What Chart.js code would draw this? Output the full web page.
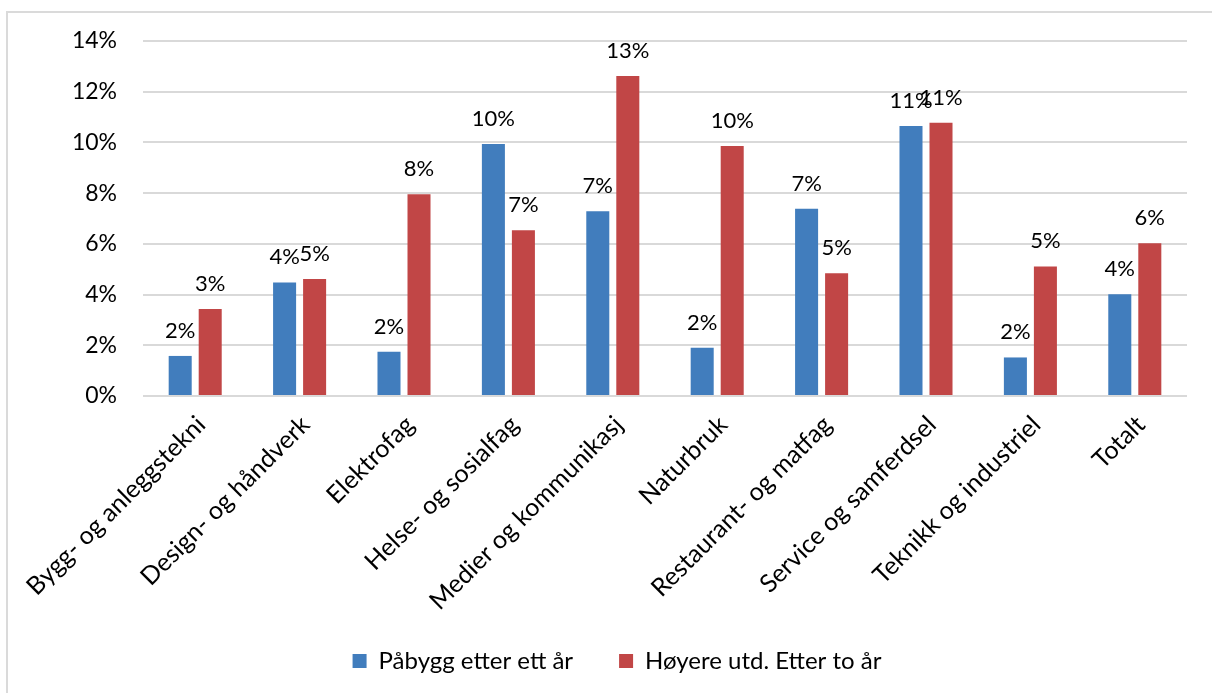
<!DOCTYPE html>
<html><head><meta charset="utf-8">
<script src="https://cdn.jsdelivr.net/npm/chart.js@4.4.1/dist/chart.umd.min.js"></script>
<style>
html,body{margin:0;padding:0;background:#fff;overflow:hidden;width:1212px;height:693px}
#frame{position:absolute;left:6px;top:11px;width:1400px;height:900px;border:2px solid #dadada;box-sizing:border-box}
#wrap{position:absolute;left:0;top:0;width:1212px;height:693px}
</style></head><body>
<div id="frame"></div>
<div id="wrap"><canvas id="c" width="1212" height="693"></canvas></div>
<script>
const categories = ['Bygg- og anleggstekni','Design- og håndverk','Elektrofag','Helse- og sosialfag','Medier og kommunikasj','Naturbruk','Restaurant- og matfag','Service og samferdsel','Teknikk og industriel','Totalt'];
const seriesNames = ['Påbygg etter ett år','Høyere utd. Etter to år'];
const pabygg = [1.58, 4.48, 1.75, 9.94, 7.29, 1.90, 7.38, 10.65, 1.52, 4.01];
const hoyere = [3.43, 4.61, 7.96, 6.54, 12.62, 9.86, 4.84, 10.78, 5.11, 6.02];
const yTickValues = [0, 2, 4, 6, 8, 10, 12, 14];
const colors = ['#417dbd', '#c14646'];

Chart.defaults.font.family = 'Lato, "Open Sans", sans-serif';
Chart.defaults.color = '#000';

const barLabels = {
  id: 'barLabels',
  afterDatasetsDraw(chart) {
    const ctx = chart.ctx;
    ctx.save();
    ctx.font = '22px Lato, "Open Sans", sans-serif';
    ctx.fillStyle = '#000';
    ctx.textAlign = 'center';
    ctx.textBaseline = 'alphabetic';
    chart.data.datasets.forEach((ds, i) => {
      chart.getDatasetMeta(i).data.forEach((bar, j) => {
        ctx.fillText(Math.round(ds.data[j]) + '%', bar.x, bar.y - 18);
      });
    });
    ctx.restore();
  }
};

const legendPlace = {
  id: 'legendPlace',
  afterLayout(chart) {
    const lg = chart.legend;
    if (!lg) return;
    const c = (lg.left + lg.right) / 2;
    const d = 617 - c;
    lg.left += d; lg.right += d;
    lg.top = 603; lg.bottom = 693; lg.height = 90;
  }
};

new Chart(document.getElementById('c'), {
  type: 'bar',
  data: {
    labels: categories,
    datasets: [
      { label: seriesNames[0], data: pabygg, backgroundColor: colors[0] },
      { label: seriesNames[1], data: hoyere, backgroundColor: colors[1] }
    ]
  },
  options: {
    responsive: false,
    animation: false,
    devicePixelRatio: 1,
    layout: { padding: { left: 0, top: 41, right: 25, bottom: 0 } },
    datasets: { bar: { categoryPercentage: 0.575, barPercentage: 0.767 } },
    plugins: {
      tooltip: { enabled: false },
      legend: {
        position: 'bottom',
        maxHeight: 40,
        labels: { boxWidth: 14, boxHeight: 14, padding: 46, font: { size: 24 }, color: '#000' }
      }
    },
    scales: {
      x: {
        grid: { display: false, drawTicks: false },
        border: { display: false },
        ticks: { autoSkip: false, minRotation: 45, maxRotation: 45, padding: 14, labelOffset: 6, font: { size: 25 }, color: '#000' },
        afterFit(s) { s.height = 693 - 396 - 40; }
      },
      y: {
        min: 0, max: 14,
        afterBuildTicks(s) { s.ticks = yTickValues.map(v => ({ value: v })); },
        grid: { color: '#d9d9d9', lineWidth: 2, drawTicks: false },
        border: { display: false },
        ticks: { padding: 26, font: { size: 23 }, color: '#000', callback: v => v + '%' },
        afterFit(s) { s.width = 143; }
      }
    }
  },
  plugins: [barLabels, legendPlace]
});
</script>
</body></html>
